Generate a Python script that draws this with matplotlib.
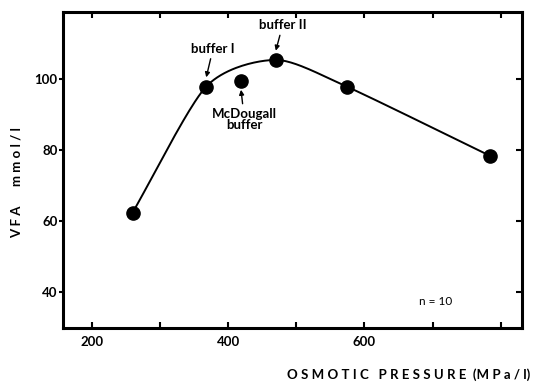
import numpy as np
import matplotlib
matplotlib.use("Agg")
import matplotlib.pyplot as plt

plt.rcParams['font.family'] = ['Lato', 'DejaVu Sans']

# osmotic pressure (MPa/l) vs VFA (mmol/l)
pressure = [260, 368, 470, 574, 784]
vfa = [62.5, 98.0, 105.5, 98.0, 78.5]
mcdougall_x = 419
mcdougall_y = 99.7


def cardinal(xs, ys, tension=0.75, n=40):
    # smooth curve through the measured points
    p = np.column_stack([xs, ys]).astype(float)
    m = np.zeros_like(p)
    m[1:-1] = tension * 0.5 * (p[2:] - p[:-2])
    m[0] = tension * (p[1] - p[0])
    m[-1] = tension * (p[-1] - p[-2])
    t = np.linspace(0, 1, n)[:, None]
    h00 = 2 * t ** 3 - 3 * t ** 2 + 1
    h10 = t ** 3 - 2 * t ** 2 + t
    h01 = -2 * t ** 3 + 3 * t ** 2
    h11 = t ** 3 - t ** 2
    out = [h00 * p[i] + h10 * m[i] + h01 * p[i + 1] + h11 * m[i + 1]
           for i in range(len(p) - 1)]
    c = np.vstack(out)
    return c[:, 0], c[:, 1]


fig = plt.figure(figsize=(5.34, 3.88), dpi=100)
ax = fig.add_axes([63 / 534, 1 - 328 / 388, 459 / 534, 316 / 388])

cx, cy = cardinal(pressure, vfa)
ax.plot(cx, cy, color='black', lw=1.4)
ax.plot(pressure, vfa, 'o', color='black', ms=9.5)
ax.plot([mcdougall_x], [mcdougall_y], 'o', color='black', ms=9.5)

ax.set_xlim(158, 831)
ax.set_ylim(30, 119)
ax.set_xticks([200, 300, 400, 500, 600, 700, 800])
ax.set_xticklabels(['200', '', '400', '', '600', '', ''])
ax.set_yticks([40, 60, 80, 100])

for s in ax.spines.values():
    s.set_linewidth(2.2)
ax.tick_params(axis='x', direction='in', top=True, length=4, width=1.5,
               labelsize=9.5, pad=6)
ax.tick_params(axis='y', direction='out', length=3, width=1.5,
               labelsize=9.5, pad=1)
ax.tick_params(axis='y', which='major', right=True)
for t in ax.yaxis.get_ticklines()[1::2]:
    t.set_marker(0)
    t.set_markersize(4)
for lab in ax.get_xticklabels() + ax.get_yticklabels():
    lab.set_fontweight('bold')

arrow = dict(arrowstyle='-|>', color='black', lw=1.0, mutation_scale=7,
             shrinkA=1, shrinkB=0)
ax.annotate('buffer I', xy=(pressure[1], vfa[1] + 2.6),
            xytext=(pressure[1] + 10, 107.0), ha='center', va='bottom',
            fontsize=9.5, fontweight='bold', arrowprops=arrow)
ax.annotate('buffer II', xy=(pressure[2], vfa[2] + 2.6),
            xytext=(pressure[2] + 10, 113.6), ha='center', va='bottom',
            fontsize=9.5, fontweight='bold', arrowprops=arrow)
ax.annotate('McDougall\nbuffer', xy=(mcdougall_x, mcdougall_y - 2.6),
            xytext=(mcdougall_x + 5, 92.0), ha='center', va='top',
            fontsize=9.5, fontweight='bold', linespacing=0.95,
            arrowprops=arrow)
ax.text(705, 37.5, 'n = 10', fontsize=8.5, ha='center', va='center')

fig.text(17 / 534, 1 - 183 / 388, 'V F A      m m o l / l', rotation=90,
         ha='center', va='center', fontsize=9.5, fontweight='bold')
fig.text(530 / 534, 1 - 375 / 388, 'O S M O T I C   P R E S S U R E  (M P a / l)',
         ha='right', va='center', fontsize=9.5, fontweight='bold')

fig.savefig('out.png', dpi=100)
